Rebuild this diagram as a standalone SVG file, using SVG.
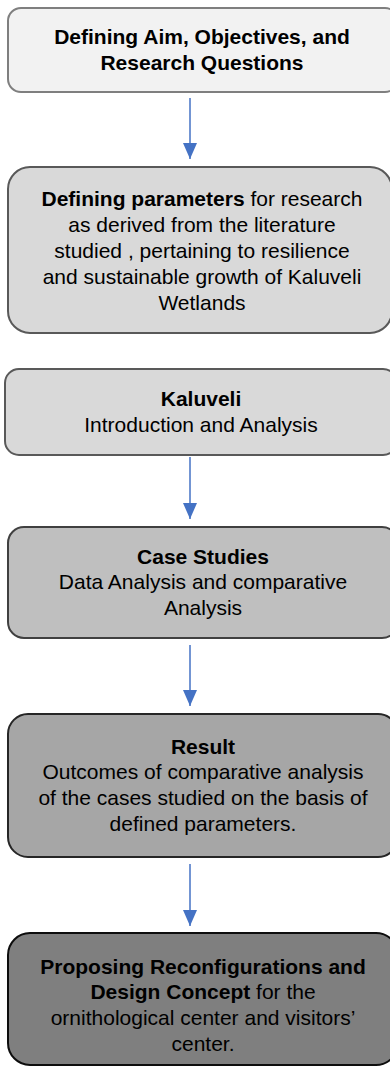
<svg xmlns="http://www.w3.org/2000/svg" width="390" height="1067" viewBox="0 0 390 1067">
<defs>
<style>
.t{font-family:"Liberation Sans",Arial,sans-serif;font-size:21px;fill:#000;text-anchor:middle;}
.b{font-weight:bold;}
.box{stroke-width:2;}
.conn line{stroke:#4472c4;stroke-width:1.5;}
</style>
<marker id="ah" viewBox="0 0 16 14" refX="16" refY="7" markerWidth="16" markerHeight="14" markerUnits="userSpaceOnUse" orient="auto">
<path d="M0,0 L16,7 L0,14 Z" fill="#4472c4"/>
</marker>
</defs>
<rect width="390" height="1067" fill="#fff"/>
<g id="n1">
<rect class="box" x="8" y="8" width="390" height="84" rx="13" fill="#f2f2f2" stroke="#7f7f7f"/>
<text class="t b" x="202" y="44">Defining Aim, Objectives, and</text>
<text class="t b" x="202" y="70">Research Questions</text>
</g>
<g id="n2">
<rect class="box" x="8" y="167" width="384" height="166" rx="22" fill="#d9d9d9" stroke="#595959"/>
<text class="t" x="202" y="206"><tspan class="b">Defining parameters</tspan> for research</text>
<text class="t" x="202" y="232">as derived from the literature</text>
<text class="t" x="202" y="258">studied , pertaining to resilience</text>
<text class="t" x="202" y="284">and sustainable growth of Kaluveli</text>
<text class="t" x="202" y="310">Wetlands</text>
</g>
<g id="n3">
<rect class="box" x="5" y="369" width="392" height="86" rx="14" fill="#d9d9d9" stroke="#595959"/>
<text class="t b" x="201" y="406">Kaluveli</text>
<text class="t" x="201" y="432">Introduction and Analysis</text>
</g>
<g id="n4">
<rect class="box" x="8" y="527" width="390" height="111" rx="16" fill="#bfbfbf" stroke="#404040"/>
<text class="t b" x="203" y="564">Case Studies</text>
<text class="t" x="203" y="589">Data Analysis and comparative</text>
<text class="t" x="203" y="615">Analysis</text>
</g>
<g id="n5">
<rect class="box" x="8" y="714" width="390" height="143" rx="20" fill="#a6a6a6" stroke="#262626"/>
<text class="t b" x="203" y="754">Result</text>
<text class="t" x="203" y="779">Outcomes of comparative analysis</text>
<text class="t" x="203" y="805">of the cases studied on the basis of</text>
<text class="t" x="203" y="831">defined parameters.</text>
</g>
<g id="n6">
<rect class="box" x="8" y="933" width="390" height="132" rx="22" fill="#7f7f7f" stroke="#0d0d0d"/>
<text class="t b" x="203" y="974">Proposing Reconfigurations and</text>
<text class="t" x="203" y="999"><tspan class="b">Design Concept</tspan> for the</text>
<text class="t" x="203" y="1025">ornithological center and visitors’</text>
<text class="t" x="203" y="1051">center.</text>
</g>
<g id="connectors" class="conn">
<line x1="190" y1="98" x2="190" y2="159" marker-end="url(#ah)"/>
<line x1="190" y1="457" x2="190" y2="519" marker-end="url(#ah)"/>
<line x1="190" y1="645" x2="190" y2="706" marker-end="url(#ah)"/>
<line x1="190" y1="864" x2="190" y2="926" marker-end="url(#ah)"/>
</g>
</svg>
